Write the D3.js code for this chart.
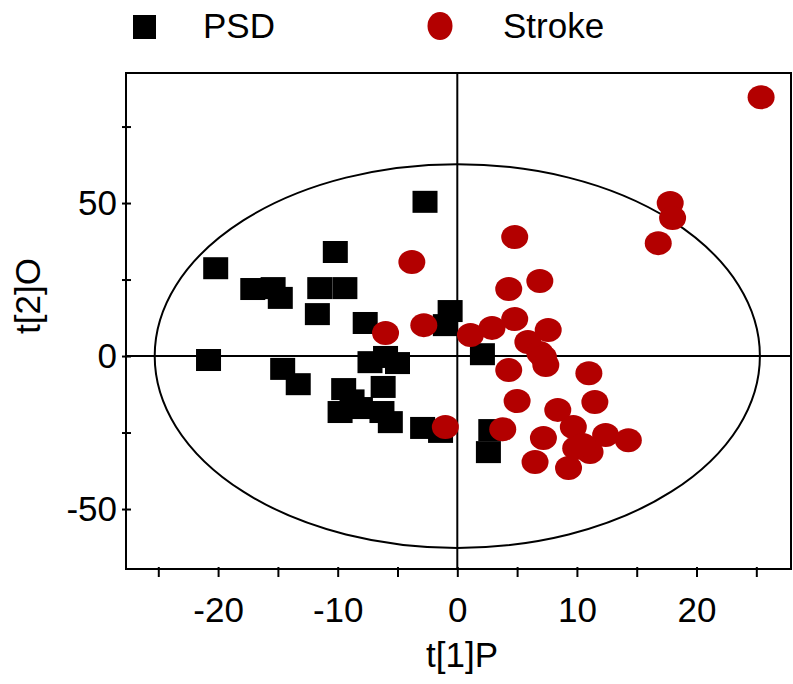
<!DOCTYPE html>
<html>
<head>
<meta charset="utf-8">
<script src="https://cdn.jsdelivr.net/npm/d3@7"></script>
<style>
  body { margin: 0; background: #fff; }
  text { font-family: "Liberation Sans", Arial, sans-serif; fill: #000; }
</style>
</head>
<body>
<svg id="chart" width="793" height="684"></svg>
<script>
// PSD scores (t[1]P, t[2]O)
const psdX = [-2.7, -20.2, -10.2, -17.1, -15.4, -14.8, -11.5, -9.4, -11.7, -7.7, -0.6, -1.0,
  -20.8, -6.0, -7.3, -5.0, -14.6, -13.3, -9.5, -6.2, -9.8, -8.1, -6.3, -5.6, -2.9, -1.4,
  2.6, 2.8, 2.1, -8.8];
const psdY = [50.4, 28.7, 34.0, 21.9, 22.2, 19.0, 22.2, 22.2, 13.7, 10.8, 14.7, 10.1,
  -1.3, -0.3, -2.0, -2.3, -4.2, -9.2, -10.8, -10.1, -18.3, -17.0, -18.3, -21.6, -23.5, -24.8,
  -31.4, -24.2, 0.6, -14.5];

// Stroke scores
const strokeX = [-3.8, -6.0, -2.8, 1.1, 25.4, 17.8, 18.0, 16.8, 4.8, 4.3, 6.9, 4.8, 7.6, 2.9,
  5.9, 6.9, 7.2, 7.4, 4.3, 11.0, 5.0, 11.5, 8.4, 9.7, 12.4, 14.3, 7.2, 3.8, -1.0, 6.5,
  9.3, 9.9, 11.1, 10.5];
const strokeY = [30.7, 7.5, 10.1, 6.9, 84.6, 50.0, 45.1, 36.9, 38.9, 21.9, 24.5, 12.1, 8.5, 9.2,
  4.6, 1.0, -0.3, -2.9, -4.6, -5.6, -14.7, -15.0, -17.6, -23.2, -25.8, -27.5, -26.8, -23.9, -23.2, -34.6,
  -36.6, -30.1, -31.4, -29.1];

const xTicks = [-25, -20, -15, -10, -5, 0, 5, 10, 15, 20, 25];
const yTicks = [-50, -25, 0, 25, 50, 75];
const ellipseR = [25.3, 62.7]; // Hotelling T2 ellipse radii

const svg = d3.select("#chart");
const x = d3.scaleLinear().domain([-27.7, 27.9]).range([126, 791]);
const y = d3.scaleLinear().domain([-69.6, 92.5]).range([569, 73]);
const red = "#b30000";

// frame
svg.append("rect")
  .attr("x", x.range()[0]).attr("y", y.range()[1])
  .attr("width", x.range()[1] - x.range()[0])
  .attr("height", y.range()[0] - y.range()[1])
  .attr("fill", "none").attr("stroke", "#000").attr("stroke-width", 2);

// zero lines
svg.append("line")
  .attr("x1", x.range()[0]).attr("x2", x.range()[1])
  .attr("y1", y(0)).attr("y2", y(0))
  .attr("stroke", "#000").attr("stroke-width", 2);
svg.append("line")
  .attr("x1", x(0)).attr("x2", x(0))
  .attr("y1", y.range()[0]).attr("y2", y.range()[1])
  .attr("stroke", "#000").attr("stroke-width", 2);

// ellipse
svg.append("ellipse")
  .attr("cx", x(0)).attr("cy", y(0))
  .attr("rx", x(ellipseR[0]) - x(0))
  .attr("ry", y(0) - y(ellipseR[1]))
  .attr("fill", "none").attr("stroke", "#000").attr("stroke-width", 2);

// axes
const xAxis = svg.append("g")
  .attr("transform", `translate(0,${y.range()[0]})`)
  .call(d3.axisBottom(x).tickValues(xTicks)
    .tickFormat(d => d % 10 === 0 ? d : "").tickSizeInner(8).tickSizeOuter(0).tickPadding(20));
xAxis.select(".domain").remove();
xAxis.selectAll(".tick line").attr("y1", -2).attr("stroke-width", 2);
xAxis.selectAll(".tick text").attr("font-size", 35).attr("font-family", "Liberation Sans, Arial, sans-serif");

const yAxis = svg.append("g")
  .attr("transform", `translate(${x.range()[0]},0)`)
  .call(d3.axisLeft(y).tickValues(yTicks)
    .tickFormat(d => d % 50 === 0 ? d : "").tickSizeInner(4).tickSizeOuter(0).tickPadding(5));
yAxis.select(".domain").remove();
yAxis.selectAll(".tick line").attr("x1", 5).attr("stroke-width", 2);
yAxis.selectAll(".tick text").attr("font-size", 35).attr("font-family", "Liberation Sans, Arial, sans-serif");

// axis titles
svg.append("text")
  .attr("x", 462).attr("y", 667)
  .attr("text-anchor", "middle").attr("font-size", 35)
  .text("t[1]P");
svg.append("text")
  .attr("transform", "translate(40,296) rotate(-90)")
  .attr("text-anchor", "middle").attr("font-size", 35)
  .text("t[2]O");

// points
svg.append("g").selectAll("rect")
  .data(psdX.map((d, i) => [d, psdY[i]])).enter()
  .append("rect")
  .attr("x", d => x(d[0]) - 12.5)
  .attr("y", d => y(d[1]) - 11)
  .attr("width", 25).attr("height", 22)
  .attr("fill", "#000");

svg.append("g").selectAll("ellipse")
  .data(strokeX.map((d, i) => [d, strokeY[i]])).enter()
  .append("ellipse")
  .attr("cx", d => x(d[0]))
  .attr("cy", d => y(d[1]))
  .attr("rx", 13.5).attr("ry", 12)
  .attr("fill", red);

// legend
const legend = svg.append("g");
legend.append("rect")
  .attr("x", 133).attr("y", 15).attr("width", 23).attr("height", 24)
  .attr("fill", "#000");
legend.append("text")
  .attr("x", 203).attr("y", 38).attr("font-size", 35)
  .text("PSD");
legend.append("ellipse")
  .attr("cx", 440).attr("cy", 26).attr("rx", 12.5).attr("ry", 14)
  .attr("fill", red);
legend.append("text")
  .attr("x", 503).attr("y", 38).attr("font-size", 35)
  .text("Stroke");
</script>
</body>
</html>
